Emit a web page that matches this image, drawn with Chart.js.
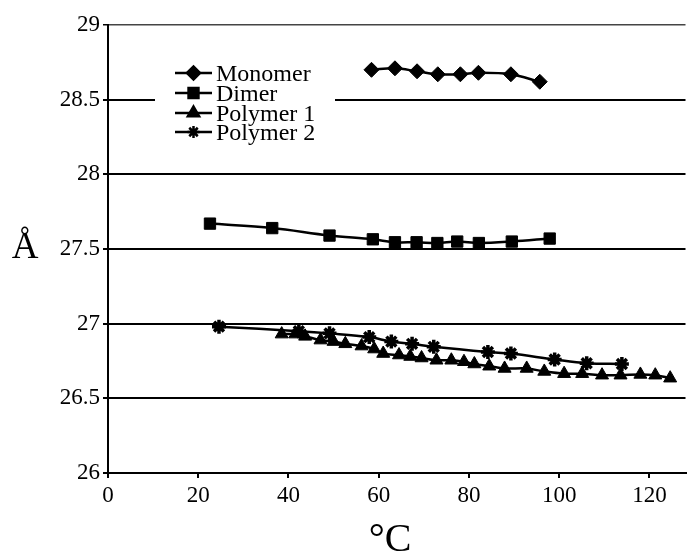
<!DOCTYPE html>
<html>
<head>
<meta charset="utf-8">
<title>Spacing vs temperature</title>
<script src="https://cdn.jsdelivr.net/npm/chart.js"></script>
<style>
  html, body { margin: 0; padding: 0; background: #fff; }
  #wrap { width: 696px; height: 554px; }
</style>
</head>
<body>
<div id="wrap"><canvas id="chart" width="696" height="554"></canvas></div>
<script>
// values (x in °C, y in Å)
const monomerX = [58.4, 63.6, 68.5, 73.1, 78.1, 82.1, 89.3, 95.7];
const monomerY = [28.70, 28.71, 28.69, 28.67, 28.67, 28.68, 28.67, 28.62];

const dimerX = [22.6, 36.4, 49.1, 58.7, 63.6, 68.4, 73.0, 77.4, 82.2, 89.5, 97.9];
const dimerY = [27.67, 27.64, 27.59, 27.565, 27.545, 27.545, 27.54, 27.55, 27.54, 27.55, 27.57];

const poly1X = [38.5, 41.5, 43.7, 47.1, 50.0, 52.6, 56.2, 59.0, 61.0, 64.5, 67.0, 69.5, 72.8, 76.1, 78.9, 81.2, 84.5, 87.9, 92.8, 96.7, 101.1, 105.1, 109.5, 113.6, 118.0, 121.3, 124.6];
const poly1Y = [26.93, 26.93, 26.915, 26.89, 26.88, 26.865, 26.85, 26.83, 26.80, 26.79, 26.78, 26.77, 26.755, 26.755, 26.745, 26.73, 26.715, 26.70, 26.70, 26.68, 26.665, 26.665, 26.655, 26.655, 26.66, 26.655, 26.635];

const poly2X = [24.6, 42.3, 49.1, 57.9, 62.8, 67.4, 72.2, 84.2, 89.3, 99.0, 106.1, 113.9];
const poly2Y = [26.98, 26.95, 26.935, 26.91, 26.88, 26.865, 26.845, 26.81, 26.80, 26.76, 26.735, 26.73];

const seriesNames = ['Monomer', 'Dimer', 'Polymer 1', 'Polymer 2'];
const xTickStep = 20;
const yTickStep = 0.5;

const serif = "'Liberation Serif', 'Times New Roman', serif";

function pts(xs, ys) {
  return xs.map((x, i) => ({ x: x, y: ys[i] }));
}

const markers = [
  { pointStyle: 'rectRot', radius: 7.5, borderWidth: 1 },
  { pointStyle: 'rect', radius: 8, borderWidth: 1 },
  { pointStyle: 'triangle', radius: 7.5, borderWidth: 1 },
  { pointStyle: 'star', radius: 7, borderWidth: 3.5 }
];

const allData = [pts(monomerX, monomerY), pts(dimerX, dimerY), pts(poly1X, poly1Y), pts(poly2X, poly2Y)];

const datasets = allData.map((d, i) => ({
  label: seriesNames[i],
  data: d,
  showLine: true,
  borderColor: '#000',
  backgroundColor: '#000',
  borderWidth: 2.5,
  tension: 0.35,
  pointStyle: markers[i].pointStyle,
  pointRadius: markers[i].radius,
  pointBorderWidth: markers[i].borderWidth,
  pointBackgroundColor: '#000',
  pointBorderColor: '#000'
}));

// legend box inside the plot + axis titles drawn flat (not rotated)
const extras = {
  id: 'extras',
  afterDraw(chart) {
    const ctx = chart.ctx;
    ctx.save();
    ctx.fillStyle = '#fff';
    ctx.fillRect(155, 55, 180, 90);

    const rows = [73, 93, 113, 132];
    ctx.font = '24px ' + serif;
    ctx.textBaseline = 'alphabetic';
    rows.forEach((y, i) => {
      ctx.strokeStyle = '#000';
      ctx.lineWidth = 2.5;
      ctx.beginPath();
      ctx.moveTo(175, y);
      ctx.lineTo(212, y);
      ctx.stroke();
      const m = markers[i];
      ctx.fillStyle = '#000';
      Chart.helpers.drawPoint(ctx, {
        pointStyle: m.pointStyle,
        radius: m.radius - 1,
        borderWidth: m.borderWidth,
        rotation: 0
      }, 193.5, y);
      ctx.fillStyle = '#000';
      ctx.fillText(seriesNames[i], 216, y + 8);
    });

    ctx.fillStyle = '#000';
    ctx.textAlign = 'center';
    ctx.font = '37px ' + serif;
    ctx.fillText('Å', 25, 258);
    ctx.font = '40px ' + serif;
    ctx.fillText('°C', 390, 551);
    ctx.restore();
  }
};

new Chart(document.getElementById('chart'), {
  type: 'scatter',
  data: { datasets: datasets },
  options: {
    responsive: false,
    animation: false,
    layout: { padding: { left: 0, top: 25, right: 7, bottom: 0 } },
    plugins: {
      legend: { display: false },
      tooltip: { enabled: false }
    },
    scales: {
      x: {
        type: 'linear',
        min: 0,
        max: 128,
        afterFit(scale) { scale.height = 81; },
        ticks: {
          stepSize: xTickStep,
          includeBounds: false,
          color: '#000',
          padding: 4,
          font: { family: serif, size: 23 }
        },
        grid: {
          drawOnChartArea: false,
          drawTicks: true,
          tickLength: 5,
          color: '#000',
          lineWidth: 2
        },
        border: { display: true, color: '#000', width: 2 }
      },
      y: {
        min: 26,
        max: 29,
        afterFit(scale) { scale.width = 108; },
        ticks: {
          stepSize: yTickStep,
          color: '#000',
          padding: 3,
          font: { family: serif, size: 23 },
          callback: v => String(v)
        },
        grid: {
          color: c => (c.tick && c.tick.value === 29) ? '#444' : '#000',
          lineWidth: c => (c.tick && c.tick.value === 29) ? 1.5 : 2,
          drawTicks: true,
          tickLength: 5,
          tickColor: '#000'
        },
        border: { display: true, color: '#000', width: 2 }
      }
    }
  },
  plugins: [extras]
});
</script>
</body>
</html>
